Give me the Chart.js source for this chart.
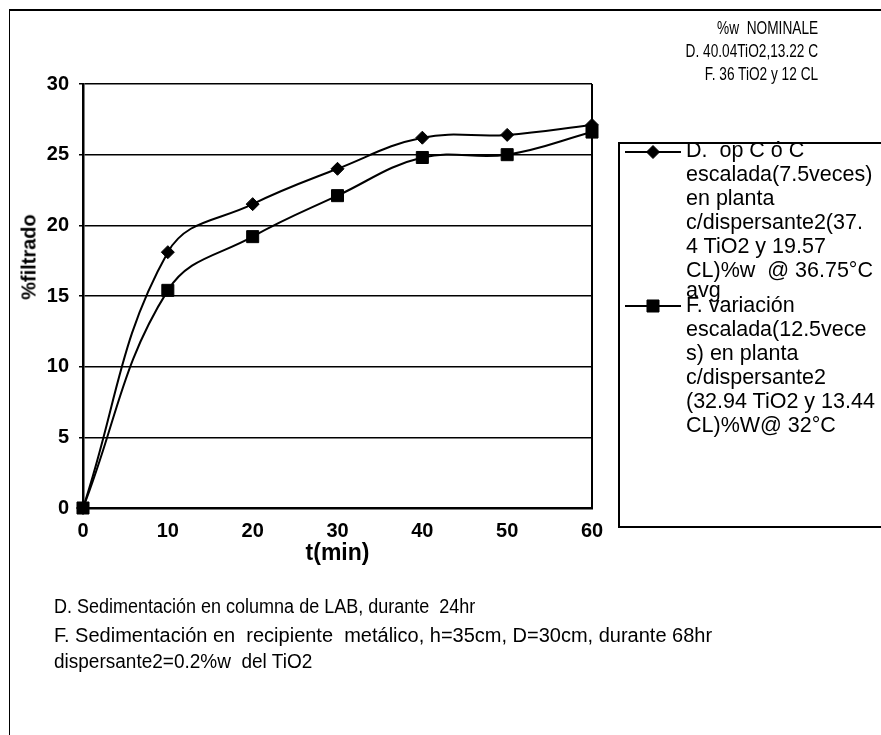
<!DOCTYPE html>
<html>
<head>
<meta charset="utf-8">
<title>%filtrado vs t(min)</title>
<script src="https://cdn.jsdelivr.net/npm/chart.js@4.4.1/dist/chart.umd.min.js"></script>
<style>
  html, body { margin: 0; padding: 0; background: #fff; }
  #wrap { position: relative; width: 881px; height: 735px; overflow: hidden; background: #fff;
          font-family: "Liberation Sans", Arial, sans-serif; color: #000; }
  #c { position: absolute; left: 0; top: 0; }
  .frame { position: absolute; left: 9px; top: 9px; width: 900px; height: 800px;
           border-top: 2px solid #000; border-left: 1px solid #000; }
  .legend { position: absolute; left: 618px; top: 142px; width: 300px; height: 386px;
            box-sizing: border-box; border: 2px solid #000; }
  .lg { position: absolute; left: 686px; font-size: 21.5px; line-height: 24px; white-space: pre; }
  .note { position: absolute; right: 63px; top: 16px; font-size: 19px; line-height: 23px;
          text-align: right; white-space: pre; transform: scaleX(0.72); transform-origin: right top; }
  .foot { position: absolute; left: 54px; font-size: 20px; line-height: 28px; white-space: pre;
          transform-origin: left top; }
  .ytitle { position: absolute; left: 29px; top: 257px; font-size: 20px; font-weight: bold; white-space: pre;
            transform: translate(-50%, -50%) rotate(-90deg); }
</style>
</head>
<body>
<div id="wrap">
  <div class="frame"></div>
  <canvas id="c" width="881" height="735"></canvas>
  <div class="legend"></div>
  <div class="lg" id="lgD" style="top:138px"></div>
  <div class="lg" id="lgAvg" style="top:278px"></div>
  <div class="lg" id="lgF" style="top:293px"></div>
  <div class="note" id="notes"></div>
  <div class="foot" id="foot0" style="top:592px; transform:scaleX(0.9)"></div>
  <div class="foot" id="foot1" style="top:621px; transform:scaleX(1.0)"></div>
  <div class="foot" id="foot2" style="top:647px; transform:scaleX(0.95)"></div>
  <div class="ytitle" id="ytitle"></div>
</div>
<script>
// sampling times (min)
const tMin = [0, 10, 20, 30, 40, 50, 60];
// % filtrado, series D and F
const serieD = [0, 18.1, 21.5, 24.0, 26.2, 26.4, 27.1];
const serieF = [0, 15.4, 19.2, 22.1, 24.8, 25.0, 26.6];

// axis titles
const xTitle = 't(min)';
const yTitle = '%filtrado';

// legend entries (wrapped as in the legend box)
const legendD = ["D.  op C ó C", "escalada(7.5veces)", "en planta", "c/dispersante2(37.",
                 "4 TiO2 y 19.57", "CL)%w  @ 36.75°C", "avg"];
const legendF = ["F. variación", "escalada(12.5vece", "s) en planta", "c/dispersante2",
                 "(32.94 TiO2 y 13.44", "CL)%W@ 32°C"];

// nominal composition notes and footnotes
const notes = ["%w  NOMINALE", "D. 40.04TiO2,13.22 C", "F. 36 TiO2 y 12 CL"];
const footnotes = ["D. Sedimentación en columna de LAB, durante  24hr",
                   "F. Sedimentación en  recipiente  metálico, h=35cm, D=30cm, durante 68hr",
                   "dispersante2=0.2%w  del TiO2"];

// the last legend line ("avg") sits a little tighter against entry F
document.getElementById('lgD').textContent = legendD.slice(0, -1).join('\n');
document.getElementById('lgAvg').textContent = legendD[legendD.length - 1];
document.getElementById('lgF').textContent = legendF.join('\n');
document.getElementById('notes').textContent = notes.join('\n');
footnotes.forEach((t, i) => { document.getElementById('foot' + i).textContent = t; });
document.getElementById('ytitle').textContent = yTitle;

Chart.defaults.font.family = '"Liberation Sans", Arial, sans-serif';
Chart.defaults.color = '#000';

// line + marker swatches for the legend box
const legendSwatch = {
  id: 'legendSwatch',
  afterDraw(chart) {
    const ctx = chart.ctx;
    const rows = [{ ds: 0, y: 152 }, { ds: 1, y: 306 }];
    rows.forEach(r => {
      const ds = chart.data.datasets[r.ds];
      ctx.save();
      ctx.strokeStyle = ds.borderColor;
      ctx.lineWidth = ds.borderWidth;
      ctx.beginPath();
      ctx.moveTo(625, r.y);
      ctx.lineTo(681, r.y);
      ctx.stroke();
      ctx.fillStyle = ds.pointBackgroundColor;
      ctx.strokeStyle = ds.pointBorderColor;
      ctx.lineWidth = 1;
      Chart.helpers.drawPoint(ctx, { pointStyle: ds.pointStyle, radius: ds.pointRadius, rotation: 0, borderWidth: 1 }, 653, r.y);
      ctx.restore();
    });
  }
};

new Chart(document.getElementById('c'), {
  type: 'line',
  data: {
    datasets: [
      {
        label: legendD.join(' '),
        data: tMin.map((t, i) => ({ x: t, y: serieD[i] })),
        borderColor: '#000', borderWidth: 2,
        pointStyle: 'rectRot', pointRadius: 6.5,
        pointBackgroundColor: '#000', pointBorderColor: '#000', pointBorderWidth: 1,
        tension: 0.4, clip: false, order: 1
      },
      {
        label: legendF.join(' '),
        data: tMin.map((t, i) => ({ x: t, y: serieF[i] })),
        borderColor: '#000', borderWidth: 2,
        pointStyle: 'rect', pointRadius: 8.5,
        pointBackgroundColor: '#000', pointBorderColor: '#000', pointBorderWidth: 1,
        tension: 0.4, clip: false, order: 0
      }
    ]
  },
  options: {
    responsive: false,
    animation: false,
    events: [],
    layout: { padding: { left: 0, top: 84, right: 289, bottom: 162 } },
    plugins: { legend: { display: false }, tooltip: { enabled: false } },
    scales: {
      x: {
        type: 'linear', min: 0, max: 60,
        afterFit: s => { s.height = 65; },
        ticks: { stepSize: 10, padding: 11, font: { size: 20, weight: 'bold' }, color: '#000' },
        grid: {
          drawTicks: false, lineWidth: 2,
          color: c => (c.tick && c.tick.value === 60) ? '#000' : 'rgba(0,0,0,0)'
        },
        border: { color: '#000', width: 2.5 },
        title: { display: true, text: xTitle, font: { size: 23, weight: 'bold' }, color: '#000',
                 padding: { top: 0, bottom: 6 } }
      },
      y: {
        min: 0, max: 30,
        afterFit: s => { s.width = 83; },
        ticks: { stepSize: 5, padding: 10, font: { size: 20, weight: 'bold' }, color: '#000' },
        grid: { color: '#000', lineWidth: 1.5, drawTicks: true, tickLength: 4 },
        border: { color: '#000', width: 2.5 },
        title: { display: false }
      }
    }
  },
  plugins: [legendSwatch]
});
</script>
</body>
</html>
